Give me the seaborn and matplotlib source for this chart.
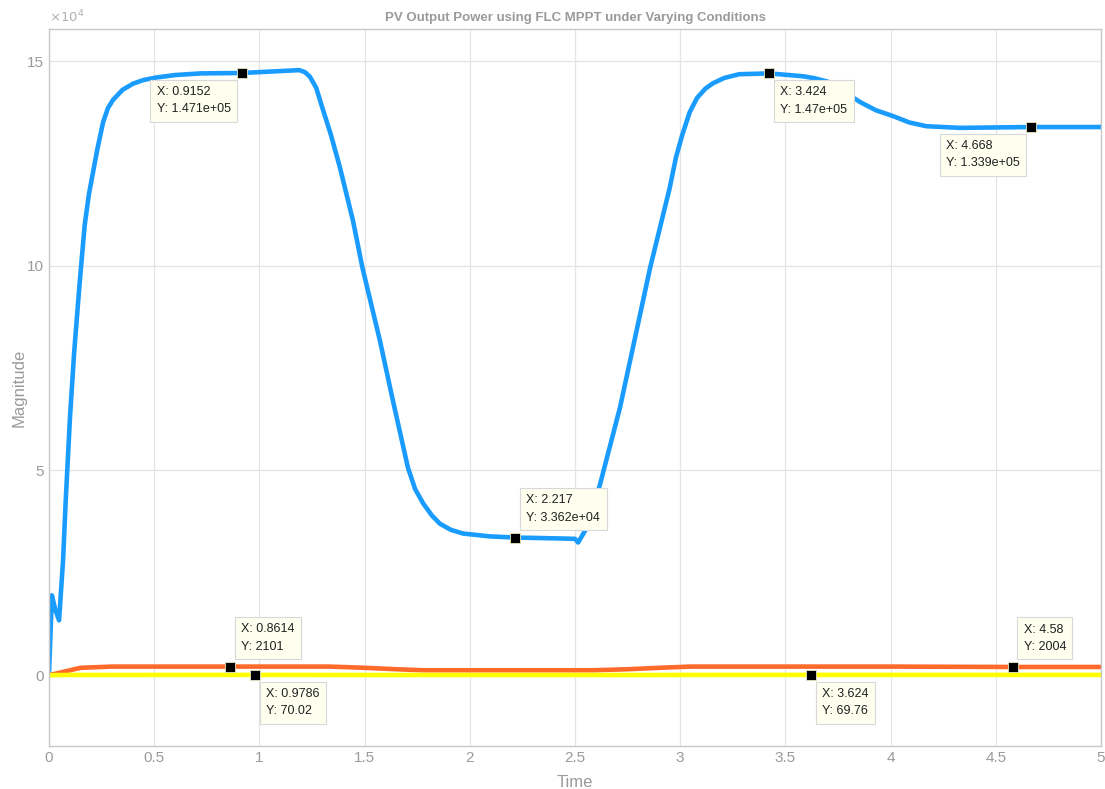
import numpy as np
import pandas as pd
import matplotlib
matplotlib.use("Agg")
import matplotlib.pyplot as plt
import seaborn as sns

# --- data (time in s, power in W) ---
t_pv = [0, 0.014, 0.03, 0.048, 0.067, 0.08, 0.1, 0.12, 0.133, 0.147, 0.17,
        0.19, 0.21, 0.23, 0.257, 0.28, 0.304, 0.35, 0.4, 0.45, 0.51, 0.6, 0.72,
        0.9152, 1.19, 1.217, 1.24, 1.27, 1.30, 1.34, 1.383, 1.445, 1.49, 1.573,
        1.635, 1.706, 1.74, 1.778, 1.82, 1.858, 1.91, 1.968, 2.096, 2.217,
        2.429, 2.5, 2.515, 2.557, 2.62, 2.714, 2.857, 2.95, 2.98, 3.01, 3.045,
        3.08, 3.12, 3.156, 3.21, 3.28, 3.424, 3.584, 3.64, 3.70, 3.78, 3.855,
        3.93, 4.01, 4.09, 4.17, 4.33, 4.668, 5.0]
p_pv = [0, 19500, 16000, 13400, 28000, 43000, 63000, 79000, 87500, 96500,
        110000, 117500, 123000, 128500, 135000, 138500, 140500, 143000, 144500,
        145400, 146000, 146600, 147000, 147100, 147800, 147300, 146200, 143500,
        138500, 132000, 124000, 111000, 99500, 81700, 67000, 50700, 45500,
        42000, 39000, 37000, 35500, 34600, 33900, 33620, 33400, 33300, 32400,
        36100, 46800, 65400, 99500, 119000, 126500, 132000, 137500, 141000,
        143300, 144600, 145900, 146800, 147000, 146300, 145800, 145000, 142500,
        140000, 138000, 136600, 135000, 134100, 133700, 133900, 133900]

t_ref = [0, 0.05, 0.1, 0.15, 0.3, 0.8614, 1.335, 1.5, 1.65, 1.78, 2.585, 2.75,
         2.9, 3.05, 4.0, 4.58, 5.0]
p_ref = [0, 600, 1200, 1800, 2100, 2101, 2100, 1800, 1450, 1200, 1200, 1450,
         1800, 2100, 2100, 2004, 2004]

t_low = [0, 0.1, 0.9786, 1.4, 1.6, 2.8, 3.0, 3.624, 5.0]
p_low = [0, 60, 70.02, 60, 40, 40, 65, 69.76, 70]

# datatips
tip_x = [0.9152, 3.424, 4.668, 2.217, 0.8614, 0.9786, 3.624, 4.58]
tip_y = [147100, 147000, 133900, 33620, 2101, 70.02, 69.76, 2004]
tip_lbl = ["X: 0.9152\nY: 1.471e+05", "X: 3.424\nY: 1.47e+05",
           "X: 4.668\nY: 1.339e+05", "X: 2.217\nY: 3.362e+04",
           "X: 0.8614\nY: 2101", "X: 0.9786\nY: 70.02",
           "X: 3.624\nY: 69.76", "X: 4.58\nY: 2004"]
# where the box sits relative to the marker
tip_side = ["bl", "br", "bl", "ar", "ar", "br", "br", "ar"]

sns.set_style("white")
plt.rcParams['font.family'] = ['Liberation Sans', 'DejaVu Sans']

SCALE = 1e4
grey = "#9a9a9a"

fig = plt.figure(figsize=(11.05, 7.89), dpi=100)
ax = fig.add_axes([0.0443, 0.0545, 0.9521, 0.9085])

sns.lineplot(x=t_pv, y=np.array(p_pv) / SCALE, ax=ax, color="#1a9cff", lw=3.3)
sns.lineplot(x=t_ref, y=np.array(p_ref) / SCALE, ax=ax, color="#ff6a2b", lw=3.3)
sns.lineplot(x=t_low, y=np.array(p_low) / SCALE, ax=ax, color="#ffff00", lw=3.3)

ax.set_xlim(0, 5)
ax.set_ylim(-1.73, 15.78)
ax.set_xticks(np.arange(0, 5.01, 0.5))
ax.set_xticklabels(["0", "0.5", "1", "1.5", "2", "2.5", "3", "3.5", "4", "4.5", "5"])
ax.set_yticks([0, 5, 10, 15])
ax.set_yticklabels(["0", "5", "10", "15"])
ax.grid(True, color="#e4e4e4", lw=0.9)
ax.tick_params(direction="in", length=5, colors="#c0c0c0", labelcolor=grey, labelsize=11)
for s in ax.spines.values():
    s.set_color("#c8c8c8")
    s.set_linewidth(1.0)

ax.set_title("PV Output Power using FLC MPPT under Varying Conditions",
             color=grey, fontsize=9.5, fontweight="bold", pad=6)
ax.set_xlabel("Time", color=grey, fontsize=12, labelpad=7)
ax.set_ylabel("Magnitude", color=grey, fontsize=12, labelpad=0)
ax.text(0, 1.006, r"$\times10^{4}$", transform=ax.transAxes, color="#b0b0b0",
        fontsize=9.5, ha="left", va="bottom")

# datatip markers and boxes
pad = 5
for x, y, lbl, side in zip(tip_x, tip_y, tip_lbl, tip_side):
    yy = y / SCALE
    ax.plot(x, yy, marker="s", ms=7.5, color="black", mec="#e8e8c0", mew=0.6, zorder=5)
    if side == "bl":
        off, ha, va = (-6 - pad, -8 - pad), "right", "top"
    elif side == "br":
        off, ha, va = (6 + pad, -8 - pad), "left", "top"
    else:
        off, ha, va = (6 + pad, 9 + pad), "left", "bottom"
    ax.annotate(lbl, xy=(x, yy), xytext=off, textcoords="offset pixels",
                ha=ha, va=va, multialignment="left", fontsize=9, color="#202020",
                linespacing=1.6,
                bbox=dict(boxstyle="square,pad=0.5", fc="#fffff0", ec="#d8d8d8", lw=0.8),
                zorder=6)

fig.savefig("out.png", dpi=100)
